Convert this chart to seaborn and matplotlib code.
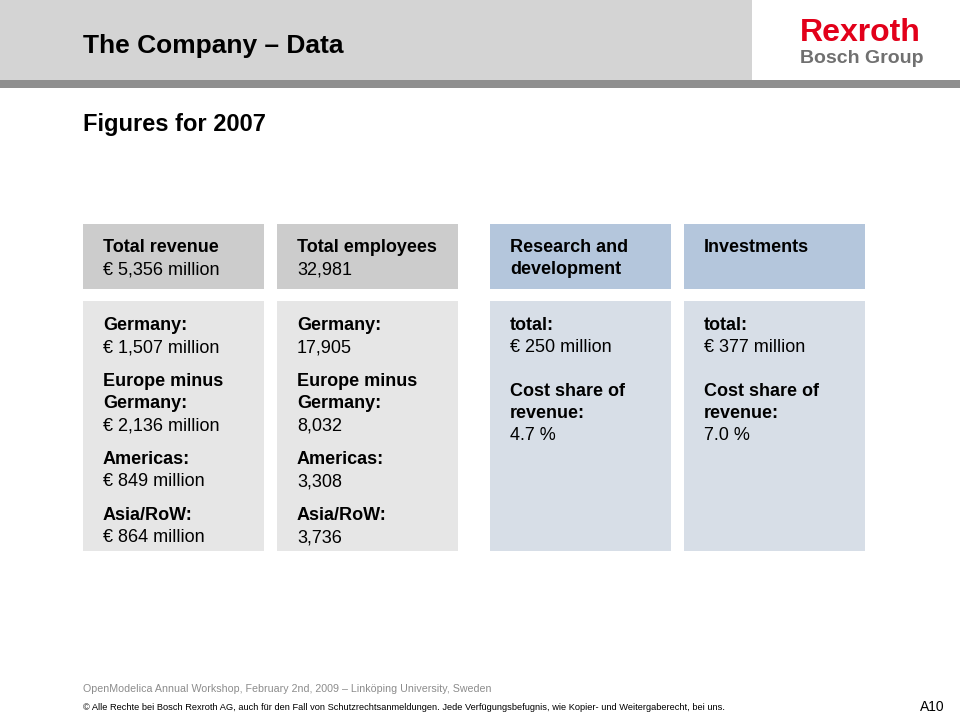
import matplotlib
matplotlib.use("Agg")
import matplotlib.pyplot as plt
import matplotlib.patches as patches
import seaborn as sns

# slide content
title = "The Company \u2013 Data"
subtitle = "Figures for 2007"
header_texts = [
    [("Total revenue", True), ("\u20ac 5,356 million", False)],
    [("Total employees", True), ("32,981", False)],
    [("Research and", True), ("development", True)],
    [("Investments", True)],
]
body_groups = [
    [[("Germany:", True), ("\u20ac 1,507 million", False)],
     [("Europe minus", True), ("Germany:", True), ("\u20ac 2,136 million", False)],
     [("Americas:", True), ("\u20ac 849 million", False)],
     [("Asia/RoW:", True), ("\u20ac 864 million", False)]],
    [[("Germany:", True), ("17,905", False)],
     [("Europe minus", True), ("Germany:", True), ("8,032", False)],
     [("Americas:", True), ("3,308", False)],
     [("Asia/RoW:", True), ("3,736", False)]],
    [[("total:", True), ("\u20ac 250 million", False)],
     [("Cost share of", True), ("revenue:", True), ("4.7 %", False)]],
    [[("total:", True), ("\u20ac 377 million", False)],
     [("Cost share of", True), ("revenue:", True), ("7.0 %", False)]],
]
group_gaps = [34, 34, 44, 44]
header_colors = ["#cccccc", "#cccccc", "#b4c6dc", "#b4c6dc"]
body_colors = ["#e6e6e6", "#e6e6e6", "#d7dee7", "#d7dee7"]
footer_event = "OpenModelica Annual Workshop, February 2nd, 2009 \u2013 Link\u00f6ping University, Sweden"
footer_rights = ("\u00a9 Alle Rechte bei Bosch Rexroth AG, auch f\u00fcr den Fall von Schutzrechtsanmeldungen. "
                 "Jede Verf\u00fcgungsbefugnis, wie Kopier- und Weitergaberecht, bei uns.")
page_id = "A10"

sns.set_theme(style="white")
plt.rcParams['font.family'] = ['Liberation Sans', 'DejaVu Sans']

fig = plt.figure(figsize=(9.6, 7.15), dpi=100)
ax = fig.add_axes([0, 0, 1, 1])
ax.set_xlim(0, 960)
ax.set_ylim(715, 0)
ax.axis('off')

# header band
ax.add_patch(patches.Rectangle((0, 0), 752, 80, color="#d4d4d4", lw=0))
ax.add_patch(patches.Rectangle((0, 80), 960, 8, color="#8f8f8f", lw=0))
ax.text(83, 53, title, fontsize=19, fontweight='bold', va='baseline', color='black')
ax.text(800, 41, "Rexroth", fontsize=23, fontweight='bold', va='baseline', color="#e2001a")
ax.text(800, 63, "Bosch Group", fontsize=14, fontweight='bold', va='baseline', color="#707070")

ax.text(83, 131, subtitle, fontsize=17, fontweight='bold', va='baseline', color='black')

col_x = [83, 277, 490, 684]
col_w = 181
for i, x0 in enumerate(col_x):
    ax.add_patch(patches.Rectangle((x0, 224), col_w, 65, color=header_colors[i], lw=0))
    ax.add_patch(patches.Rectangle((x0, 301), col_w, 250, color=body_colors[i], lw=0))
    y = 248
    for txt, bold in header_texts[i]:
        ax.text(x0 + 20, y, txt, fontsize=13, fontweight='bold' if bold else 'normal',
                va='center', color='black')
        y += 22
    y = 326
    for g, group in enumerate(body_groups[i]):
        if g > 0:
            y += group_gaps[i] - 22
        for txt, bold in group:
            ax.text(x0 + 20, y, txt, fontsize=13, fontweight='bold' if bold else 'normal',
                    va='center', color='black')
            y += 22

ax.text(83, 689, footer_event, fontsize=7.7, va='center', color="#8c8c8c")
ax.text(83, 707, footer_rights, fontsize=6.7, va='center', color='black')
ax.text(945, 707, page_id, fontsize=10, va='center', ha='right', color='black')

fig.savefig("out.png", dpi=100)
